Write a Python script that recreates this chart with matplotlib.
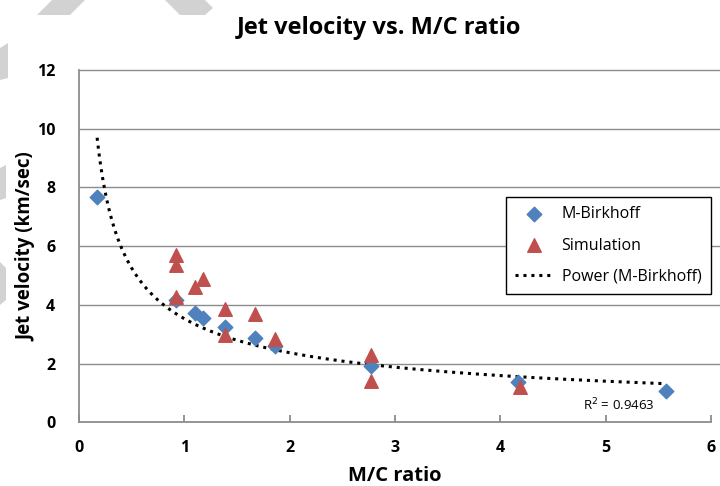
import matplotlib
matplotlib.use("Agg")
import matplotlib.pyplot as plt
from matplotlib.patches import Polygon
import numpy as np

plt.rcParams["font.family"] = ["Open Sans", "DejaVu Sans"]

# M-Birkhoff model points
birk_mc = [0.172, 0.917, 1.10, 1.18, 1.387, 1.675, 1.856, 2.773, 4.17, 5.57]
birk_v = [7.66, 4.17, 3.74, 3.57, 3.23, 2.88, 2.60, 1.93, 1.38, 1.07]

# simulation points
sim_mc = [0.917, 0.917, 0.917, 1.10, 1.18, 1.387, 1.387, 1.675, 1.856, 2.773, 2.773, 4.19]
sim_v = [5.70, 5.36, 4.28, 4.60, 4.87, 3.85, 2.98, 3.69, 2.83, 2.29, 1.42, 1.21]

y_ticks = [0, 2, 4, 6, 8, 10, 12]
r2_label = "R$^2$ = 0.9463"

BLUE = "#4F81BD"
RED = "#C0504D"
GRID = "#8C8C8C"

fig = plt.figure(figsize=(7.2, 4.86), dpi=100)
ax = fig.add_axes([0.1097, 0.131, 0.878, 0.725])

# faint grey watermark bits along the edge of the scan
for pts in [
    [(37, 15), (70, 15), (85, 0), (52, 0)],
    [(165, 0), (205, 0), (213, 8), (205, 15), (180, 15)],
    [(0, 48), (8, 43), (8, 78), (0, 80)],
    [(0, 168), (6, 165), (6, 198), (0, 200)],
    [(0, 262), (6, 268), (6, 300), (0, 305)],
]:
    fig.patches.append(Polygon([(x / 720, 1 - y / 486) for x, y in pts], closed=True,
                               transform=fig.transFigure, facecolor="#C4C4C4",
                               edgecolor="none", alpha=0.75, zorder=0))

# power trendline fitted to the M-Birkhoff points (y = a * x^b)
b, ln_a = np.polyfit(np.log(birk_mc), np.log(birk_v), 1)
xs = np.linspace(min(birk_mc), max(birk_mc), 300)
ax.plot(xs, np.exp(ln_a) * xs ** b, color="black", linestyle=(0, (1, 1.6)),
        linewidth=2.2, label="Power (M-Birkhoff)", zorder=3)

ax.scatter(birk_mc, birk_v, marker="D", s=55, color=BLUE, label="M-Birkhoff", zorder=4)
ax.scatter(sim_mc, sim_v, marker="^", s=95, color=RED, label="Simulation", zorder=5)

ax.set_xlim(0, 6)
ax.set_ylim(0, 12)
ax.set_xticks(range(0, 7))
ax.set_yticks(y_ticks)
# gridlines run a little past the last x tick, as in the original
ax.hlines(y_ticks[1:], 0, 6.1, color=GRID, linewidth=1, clip_on=False, zorder=1)
for side in ["top", "right"]:
    ax.spines[side].set_visible(False)
for side in ["left", "bottom"]:
    ax.spines[side].set_color(GRID)
    ax.spines[side].set_linewidth(1.3)
ax.tick_params(axis="x", colors=GRID, direction="in", length=5, width=1.3,
               labelcolor="black", labelsize=11.5, pad=13)
ax.tick_params(axis="y", colors=GRID, length=0, labelcolor="black",
               labelsize=11.5, pad=17)
for lbl in ax.get_xticklabels() + ax.get_yticklabels():
    lbl.set_fontweight("bold")

ax.set_xlabel("M/C ratio", fontsize=14.5, fontweight="bold", labelpad=7)
ax.set_ylabel("Jet velocity (km/sec)", fontsize=13.5, fontweight="bold")
ax.yaxis.set_label_coords(-0.068, 0.5)
fig.text(0.526, 0.942, "Jet velocity vs. M/C ratio", fontsize=17, fontweight="bold",
         ha="center", va="center")

ax.text(5.12, 0.6, r2_label, fontsize=9.5, ha="center", va="center")

handles, labels = ax.get_legend_handles_labels()
order = [1, 2, 0]
leg = ax.legend([handles[i] for i in order], [labels[i] for i in order],
                loc="upper left", bbox_to_anchor=(0.675, 0.64), fontsize=11.5,
                frameon=True, fancybox=False, edgecolor="black", framealpha=1,
                borderpad=0.6, labelspacing=0.95, handlelength=2.4, handletextpad=0.5,
                borderaxespad=0)
leg.get_frame().set_linewidth(1.0)

fig.savefig("out.png", dpi=100)
